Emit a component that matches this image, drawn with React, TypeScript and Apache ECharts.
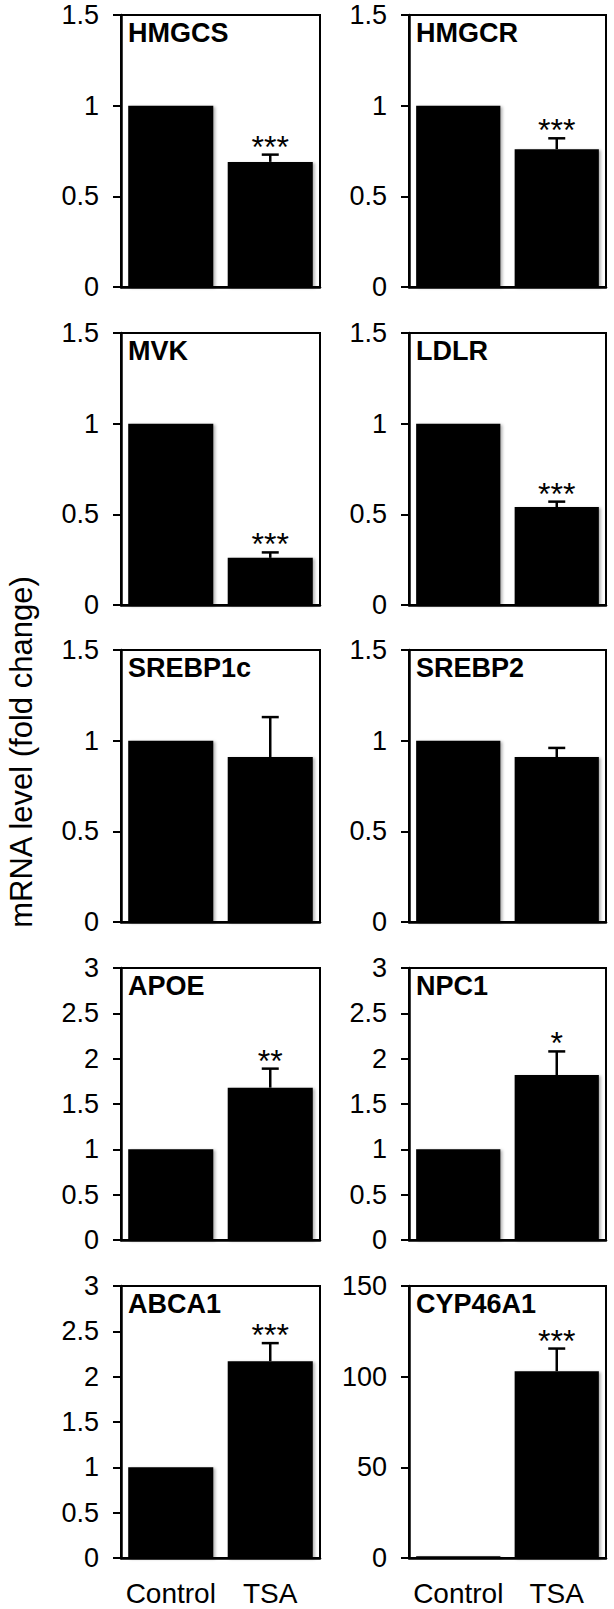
import React, { useEffect, useRef } from "react";
import * as echarts from "echarts";

const categories = ["Control", "TSA"];
const genes = ["HMGCS", "HMGCR", "MVK", "LDLR", "SREBP1c", "SREBP2", "APOE", "NPC1", "ABCA1", "CYP46A1"];
const controlMeans = [1, 1, 1, 1, 1, 1, 1, 1, 1, 1];
const tsaMeans = [0.69, 0.76, 0.26, 0.54, 0.91, 0.91, 1.68, 1.82, 2.17, 103];
const tsaErrors = [0.04, 0.06, 0.03, 0.03, 0.22, 0.05, 0.21, 0.26, 0.2, 12.5];
const significance = ["***", "***", "***", "***", "", "", "**", "*", "***", "***"];
const yMaxes = [1.5, 1.5, 1.5, 1.5, 1.5, 1.5, 3, 3, 3, 150];
const yIntervals = [0.5, 0.5, 0.5, 0.5, 0.5, 0.5, 0.5, 0.5, 0.5, 50];
const yAxisTitle = "mRNA level (fold change)";

const FONT = "'Liberation Sans', Arial, Helvetica, sans-serif";
const colLefts = [121, 409];
const colWidths = [199, 197];
const rowTops = [15, 333, 650, 968, 1286];
const rowHeight = 272;

export default function App() {
  const ref = useRef<HTMLDivElement>(null);

  useEffect(() => {
    if (!ref.current) return;
    const chart = echarts.init(ref.current, null, { renderer: "svg" });

    const grids: any[] = [];
    const xAxes: any[] = [];
    const yAxes: any[] = [];
    const series: any[] = [];
    const graphics: any[] = [];

    genes.forEach((gene, i) => {
      const col = i % 2;
      const row = Math.floor(i / 2);
      const isBottom = row === rowTops.length - 1;
      grids.push({
        left: colLefts[col],
        top: rowTops[row],
        width: colWidths[col],
        height: rowHeight,
        show: true,
        borderColor: "#000",
        borderWidth: 2,
        containLabel: false,
      });
      xAxes.push({
        type: "category",
        gridIndex: i,
        data: categories,
        axisLine: { show: true, lineStyle: { color: "#000", width: 2.5 } },
        axisTick: { show: false },
        axisLabel: {
          show: isBottom,
          interval: 0,
          color: "#000",
          fontSize: 28,
          fontFamily: FONT,
          margin: 21,
        },
        splitLine: { show: false },
      });
      yAxes.push({
        type: "value",
        gridIndex: i,
        min: 0,
        max: yMaxes[i],
        interval: yIntervals[i],
        axisLine: { show: true, lineStyle: { color: "#000", width: 2.5 } },
        axisTick: { show: true, inside: false, length: 8, lineStyle: { color: "#000", width: 2 } },
        axisLabel: {
          color: "#000",
          fontSize: 27,
          fontFamily: FONT,
          margin: 22,
        },
        splitLine: { show: false },
      });
      series.push({
        type: "bar",
        xAxisIndex: i,
        yAxisIndex: i,
        data: [controlMeans[i], tsaMeans[i]],
        barCategoryGap: "14.5%",
        itemStyle: {
          color: "#000",
          shadowColor: "rgba(0,0,0,0.3)",
          shadowBlur: 3,
          shadowOffsetX: 2,
          shadowOffsetY: 1,
        },
        silent: true,
      });
      const sig = significance[i];
      series.push({
        type: "custom",
        xAxisIndex: i,
        yAxisIndex: i,
        data: [[1, tsaMeans[i], tsaErrors[i]]],
        z: 5,
        silent: true,
        renderItem: (params: any, api: any) => {
          const x = api.value(0);
          const mean = api.value(1);
          const err = api.value(2);
          const base = api.coord([x, mean]);
          const top = api.coord([x, mean + err]);
          const half = 8.5;
          const children: any[] = [
            {
              type: "line",
              shape: { x1: base[0], y1: base[1], x2: top[0], y2: top[1] },
              style: { stroke: "#000", lineWidth: 2.5 },
            },
            {
              type: "line",
              shape: { x1: top[0] - half, y1: top[1], x2: top[0] + half, y2: top[1] },
              style: { stroke: "#000", lineWidth: 2.5 },
            },
          ];
          if (sig) {
            children.push({
              type: "text",
              style: {
                text: sig,
                x: top[0],
                y: top[1] - 8,
                align: "center",
                verticalAlign: "middle",
                font: `32px ${FONT}`,
                fill: "#000",
              },
            });
          }
          return { type: "group", children };
        },
      });
      graphics.push({
        type: "text",
        left: colLefts[col] + 7,
        top: rowTops[row] + 4,
        style: {
          text: gene,
          font: `bold 27px ${FONT}`,
          fill: "#000",
        },
      });
    });

    graphics.push({
      type: "text",
      x: 21,
      y: 752,
      rotation: Math.PI / 2,
      style: {
        text: yAxisTitle,
        font: `31px ${FONT}`,
        fill: "#000",
        align: "center",
        verticalAlign: "middle",
      },
    });

    chart.setOption({
      animation: false,
      backgroundColor: "#fff",
      grid: grids,
      xAxis: xAxes,
      yAxis: yAxes,
      series,
      graphic: graphics,
    });

    return () => chart.dispose();
  }, []);

  return (
    <div
      ref={ref}
      style={{ position: "absolute", left: 0, top: 0, width: 614, height: 1609 }}
    />
  );
}
